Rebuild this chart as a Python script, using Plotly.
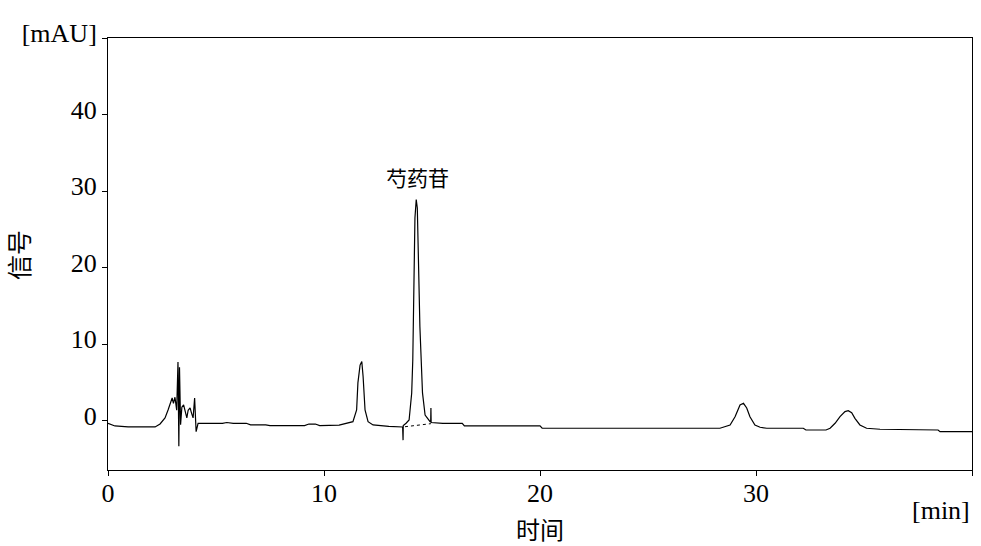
import plotly.graph_objects as go

# ---- data ----
time_min = [
    0.00, 0.09, 0.32, 0.93, 2.18, 2.41, 2.64, 2.78, 2.87, 2.97, 3.03, 3.10, 3.18,
    3.24, 3.28, 3.31, 3.36, 3.42, 3.50, 3.57, 3.65, 3.71, 3.80, 3.87, 3.94, 4.01,
    4.08, 4.17, 4.30,
    4.5, 5.3, 5.5, 5.8, 6.4, 6.6, 7.3, 7.5, 9.1, 9.3, 9.6, 9.8, 10.7,
    11.34, 11.51, 11.57, 11.67, 11.75, 11.81, 11.90, 12.04, 12.27, 13.0,
    13.64, 13.66, 13.67, 13.80, 13.94, 14.06, 14.11, 14.21, 14.27, 14.32,
    14.36, 14.44, 14.56, 14.68, 14.91, 14.94, 14.95, 14.96, 15.5, 16.4, 16.5,
    20.0, 20.1, 28.33,
    28.80, 29.03, 29.26, 29.42, 29.57, 29.72, 29.95, 30.19, 30.50, 32.19,
    32.31, 33.24,
    33.43, 33.66, 33.89, 34.12, 34.27, 34.43, 34.58, 34.81, 35.12, 35.74,
    38.43, 38.52, 40.0,
]
signal_mau = [
    -0.30, -0.39, -0.65, -0.78, -0.78, -0.39, 0.39, 1.44, 2.10, 3.00, 2.30, 3.10, 1.40,
    7.70, -3.30, 7.00, -0.50, 1.80, 2.10, 1.20, 0.40, 1.40, 1.70, 1.00, 0.40, 3.00,
    -1.40, -0.30, -0.30,
    -0.30, -0.30, -0.20, -0.30, -0.30, -0.50, -0.50, -0.60, -0.60, -0.40, -0.40, -0.60, -0.55,
    -0.09, 1.44, 4.97, 7.30, 7.75, 5.80, 1.44, -0.09, -0.52, -0.70,
    -0.78, -2.50, -0.60, -0.30, 0.13, 3.66, 7.97, 26.5, 28.9, 27.8,
    23.3, 12.3, 3.66, 0.78, -0.09, -0.10, 1.70, -0.20, -0.30, -0.30, -0.65,
    -0.65, -0.95, -0.95,
    -0.52, 0.56, 2.09, 2.31, 1.70, 0.56, -0.52, -0.82, -0.95, -0.95,
    -1.18, -1.18,
    -0.95, -0.30, 0.56, 1.22, 1.35, 1.08, 0.35, -0.52, -0.95, -1.08,
    -1.18, -1.40, -1.40,
]
# integration baseline under the main peak (dotted)
base_t = [13.75, 14.95]
base_v = [-0.75, -0.35]

peak_name = "芍药苷"
peak_t = 14.35
peak_v = 31.8

x_ticks = [0, 10, 20, 30, 40]
x_tick_text = ["0", "10", "20", "30", ""]
y_ticks = [0, 10, 20, 30, 40, 50]
y_tick_text = ["0", "10", "20", "30", "40", "[mAU]"]

serif = "Liberation Serif"
cjk = "Noto Sans CJK SC"

fig = go.Figure()
fig.add_trace(go.Scatter(x=time_min, y=signal_mau, mode="lines",
                         line=dict(color="black", width=1.2),
                         showlegend=False, hoverinfo="x+y"))
fig.add_trace(go.Scatter(x=base_t, y=base_v, mode="lines",
                         line=dict(color="black", width=1, dash="dot"),
                         showlegend=False, hoverinfo="skip"))

fig.update_layout(
    width=981, height=546,
    margin=dict(l=108, r=9, t=38, b=76),
    paper_bgcolor="white", plot_bgcolor="white",
    xaxis=dict(range=[0, 40], tickvals=x_ticks, ticktext=x_tick_text,
               ticks="outside", ticklen=5, tickcolor="black", tickwidth=1,
               showline=True, linecolor="black", linewidth=1, mirror=True,
               showgrid=False, zeroline=False, ticklabelstandoff=-5,
               tickfont=dict(family=serif, size=26, color="black")),
    yaxis=dict(range=[-6.4, 50], tickvals=y_ticks, ticktext=y_tick_text,
               ticks="outside", ticklen=5, tickcolor="black", tickwidth=1,
               showline=True, linecolor="black", linewidth=1, mirror=True,
               showgrid=False, zeroline=False, ticklabelshift=-5,
               tickfont=dict(family=serif, size=26, color="black")),
    annotations=[
        dict(text=peak_name, x=peak_t, y=peak_v, xref="x", yref="y",
             showarrow=False, font=dict(family=cjk, size=21, color="black")),
        dict(text="时间", x=0.5, y=0, xref="paper", yref="paper", yshift=-58,
             showarrow=False, xanchor="center", yanchor="middle",
             font=dict(family=cjk, size=24, color="black")),
        dict(text="信号", x=0, y=0.4977, xref="paper", yref="paper", xshift=-90,
             showarrow=False, xanchor="center", yanchor="middle", textangle=-90,
             font=dict(family=cjk, size=25, color="black")),
        dict(text="[min]", x=1, y=0, xref="paper", yref="paper", yshift=-40,
             showarrow=False, xanchor="right", yanchor="middle",
             font=dict(family=serif, size=26, color="black")),
    ],
)

fig.write_html("out.html", config={"displayModeBar": False})

# remove the default page margin so the figure sits at the window's corner
with open("out.html", "r", encoding="utf-8") as f:
    html = f.read()
html = html.replace("<body>", '<body style="margin:0;padding:0;overflow:hidden">', 1)
html = html.replace("<head>", "<head><style>html,body{margin:0;padding:0;}</style>", 1)
with open("out.html", "w", encoding="utf-8") as f:
    f.write(html)
